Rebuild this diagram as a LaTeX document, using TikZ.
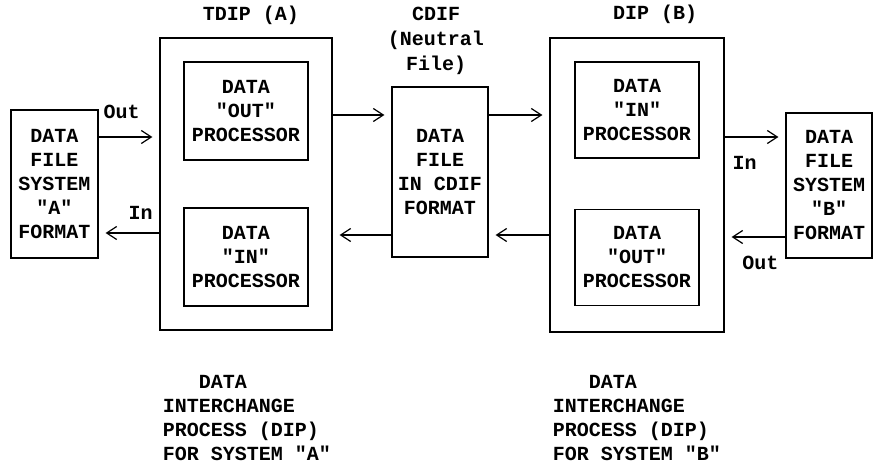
\documentclass[tikz,border=0pt]{standalone}
\usepackage{fontspec}
\setmainfont{Liberation Mono}[Ligatures=TeXOff]
\usetikzlibrary{positioning,arrows.meta}

\begin{document}
\begin{tikzpicture}[x=1pt,y=-1pt,
  every node/.style={font=\fontsize{20}{24}\selectfont\bfseries,align=center},
  box/.style={draw,line width=1.2pt,inner sep=0pt},
  arr/.style={line width=1.2pt,-{Straight Barb[length=10pt,width=13pt,line width=1.2pt]},shorten >=7pt}]
\path[use as bounding box] (0,0) rectangle (875,465);
% file systems at both ends
\node[box,minimum width=87pt,minimum height=148pt](FSA) at (54.5,184){DATA\\FILE\\SYSTEM\\"A"\\FORMAT};
\node[box,minimum width=86pt,minimum height=145pt](FSB) at (829,185.5){DATA\\FILE\\SYSTEM\\"B"\\FORMAT};
% neutral file in the middle
\node[box,minimum width=96pt,minimum height=170pt](CDF) at (440,172){DATA\\FILE\\IN CDIF\\FORMAT};
% interchange processes with their two processors
\node[box,minimum width=172pt,minimum height=292pt](TDA) at (246,184){};
\node[box,minimum width=174pt,minimum height=294pt](DPB) at (637,185){};
\node[box,minimum width=124pt,minimum height=98pt](TDAo) at ([yshift=73pt]TDA.center){DATA\\"OUT"\\PROCESSOR};
\node[box,minimum width=124pt,minimum height=98pt](TDAi) at ([yshift=-73pt]TDA.center){DATA\\"IN"\\PROCESSOR};
\node[box,minimum width=124pt,minimum height=96pt](DPBi) at ([yshift=75pt]DPB.center){DATA\\"IN"\\PROCESSOR};
\node[box,minimum width=124pt,minimum height=96pt](DPBo) at ([yshift=-72.5pt]DPB.center){DATA\\"OUT"\\PROCESSOR};
% titles
\node(LTA) at ([xshift=5pt,yshift=22pt]TDA.north){TDIP (A)};
\node[font=\fontsize{20}{25}\selectfont\bfseries](LCD) at ([xshift=-4pt,yshift=46pt]CDF.north){CDIF\\(Neutral\\File)};
\node(LDB) at ([xshift=18pt,yshift=23pt]DPB.north){DIP (B)};
\node[align=left](DIA) at ([xshift=1pt,yshift=-234pt]TDA.center){\hphantom{XXX}DATA\\INTERCHANGE\\PROCESS (DIP)\\FOR SYSTEM "A"};
\node[align=left](DIB) at ([yshift=-233pt]DPB.center){\hphantom{XXX}DATA\\INTERCHANGE\\PROCESS (DIP)\\FOR SYSTEM "B"};
% flow labels
\node(OA) at ([xshift=23pt,yshift=-3pt]FSA.north east){Out};
\node(IA) at ([xshift=42pt,yshift=-29pt]FSA.east){In};
\node(IB) at ([xshift=20pt,yshift=22pt]DPB.east){In};
\node(OB) at ([xshift=-25pt,yshift=-4pt]FSB.south west){Out};
% arrows
\coordinate (a1) at ([yshift=47pt]FSA.east);
\coordinate (a2) at ([yshift=-49pt]TDA.west);
\coordinate (a3) at ([yshift=69pt]TDA.east);
\coordinate (a4) at ([yshift=-63pt]CDF.west);
\coordinate (a5) at ([yshift=57pt]CDF.east);
\coordinate (a6) at ([yshift=-50pt]DPB.west);
\coordinate (a7) at ([yshift=48pt]DPB.east);
\coordinate (a8) at ([yshift=-51.5pt]FSB.west);
\draw[arr] (a1) -- (a1 -| TDA.west);
\draw[arr] (a2) -- (a2 -| FSA.east);
\draw[arr] (a3) -- (a3 -| CDF.west);
\draw[arr] (a4) -- (a4 -| TDA.east);
\draw[arr] (a5) -- (a5 -| DPB.west);
\draw[arr] (a6) -- (a6 -| CDF.east);
\draw[arr] (a7) -- (a7 -| FSB.west);
\draw[arr] (a8) -- (a8 -| DPB.east);
\end{tikzpicture}
\end{document}
